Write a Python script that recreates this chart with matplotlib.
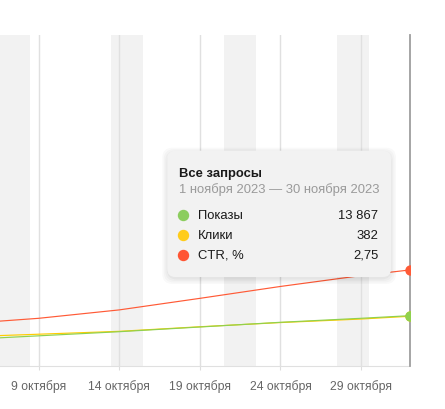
import matplotlib
matplotlib.use('Agg')
import matplotlib.pyplot as plt
from matplotlib.patches import FancyBboxPatch

plt.rcParams['font.family'] = ['Liberation Sans', 'DejaVu Sans']

# Данные (день октября; 32 = 1 ноября)
days = [6, 9, 14, 19, 24, 29, 32]
shows = [7670, 8350, 9480, 10770, 12060, 13160, 13867]
clicks = [232, 245, 267, 302, 334, 361, 382]
ctr = [1.27, 1.37, 1.61, 1.94, 2.28, 2.59, 2.75]

tick_days = [9, 14, 19, 24, 29]
tick_labels = ['9 октября', '14 октября', '19 октября', '24 октября', '29 октября']
weekends = [7, 8, 14, 15, 21, 22, 28, 29]

tooltip_title = 'Все запросы'
tooltip_period = '1 ноября 2023 — 30 ноября 2023'
tooltip_names = ['Показы', 'Клики', 'CTR, %']
tooltip_values = ['13 867', '382', '2,75']

c_green = '#8fd14f'
c_yellow = '#ffcc00'
c_red = '#ff5a36'

W, H = 445, 410
fig = plt.figure(figsize=(W / 100, H / 100), dpi=100)
ax = fig.add_axes([0, (H - 367.3) / H, 409.5 / W, (367.3 - 36) / H])

ax.set_xlim(6.613, 32)
for d in weekends:
    ax.axvspan(d - 0.5, d + 0.5, color='#f2f2f2', lw=0, zorder=0)
for d in tick_days:
    ax.axvline(d, color='#e0e0e0', lw=1, zorder=1)

ax.set_xticks(tick_days)
ax.set_xticklabels(tick_labels)
ax.tick_params(axis='x', length=3, color='#dddddd', labelcolor='#666666',
               labelsize=8.8, pad=6.5)
ax.set_yticks([])
for s in ['top', 'left']:
    ax.spines[s].set_visible(False)
ax.spines['bottom'].set_color('#e0e0e0')
ax.spines['right'].set_color('#9e9e9e')
ax.spines['right'].set_linewidth(1.3)
ax.spines['right'].set_zorder(5)

series = [
    (ctr, (0, 9.46), c_red),
    (clicks, (0, 2530), c_yellow),
    (shows, (0, 90800), c_green),
]
for vals, lim, col in series:
    t = ax.twinx()
    t.set_ylim(*lim)
    t.set_xlim(6.613, 32)
    t.plot(days, vals, color=col, lw=0.85, zorder=3)
    t.plot(days[-1:], vals[-1:], 'o', color=col, ms=6.5, zorder=4)
    t.set_yticks([])
    for s in t.spines.values():
        s.set_visible(False)

# Подсказка
ov = fig.add_axes([0, 0, 1, 1], zorder=10)
ov.set_xlim(0, W)
ov.set_ylim(H, 0)
ov.axis('off')
bx, by, bw, bh = 167.3, 151.7, 223.7, 126.3
for i, a in enumerate([0.025, 0.025, 0.025, 0.03]):
    g = 6 - i * 1.5
    ov.add_patch(FancyBboxPatch((bx - g + 1, by - g + 3), bw + 2 * g - 2, bh + 2 * g - 2,
                                boxstyle='round,pad=0,rounding_size=10',
                                fc='black', ec='none', alpha=a))
ov.add_patch(FancyBboxPatch((bx, by), bw, bh, boxstyle='round,pad=0,rounding_size=8',
                            fc='#f2f2f2', ec='none'))
ov.text(178.7, 174.3, tooltip_title, fontsize=9.4, fontweight='bold',
        color='#1a1a1a', va='center')
ov.text(178.7, 189.3, tooltip_period, fontsize=9.4, color='#9a9a9a', va='center')
row_y = [216, 235.7, 255.7]
dot_colors = ['#8ccd5e', '#ffcc1a', '#ff5533']
for y, name, val, col in zip(row_y, tooltip_names, tooltip_values, dot_colors):
    ov.plot([182.7], [y], 'o', color=col, ms=7.2)
    ov.text(198.3, y, name, fontsize=9.4, color='#1a1a1a', va='center')
    ov.text(378.3, y, val, fontsize=9.4, color='#1a1a1a', va='center', ha='right')

fig.savefig('out.png', dpi=100)
plt.close(fig)
